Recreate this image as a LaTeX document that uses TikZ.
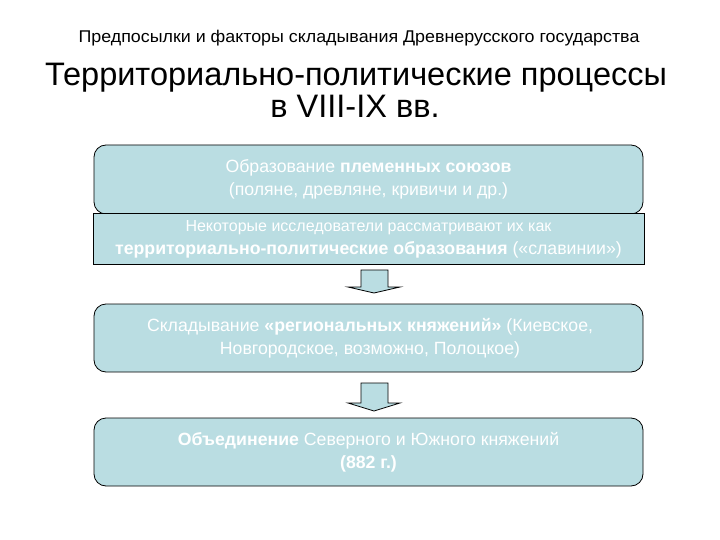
\documentclass[tikz,border=0pt]{standalone}
\usepackage{fontspec}
\setmainfont{Liberation Sans}
\newfontfamily\subfont[FakeStretch=1.05]{Liberation Sans}
\definecolor{boxfill}{HTML}{BADDE2}
\begin{document}
\begin{tikzpicture}[x=1pt,y=-1pt,
  roundbox/.style={draw=black,line width=0.8pt,fill=boxfill,rounded corners=12pt},
  sharpbox/.style={draw=black,line width=0.8pt,fill=boxfill},
  boxtext/.style={text=white,align=center,font=\fontsize{17.7}{23}\selectfont},
  titletext/.style={font=\fontsize{32.5}{34}\selectfont,anchor=base},
  downarrow/.style={draw=black,line width=0.8pt,fill=boxfill}]
\useasboundingbox (0,0) rectangle (720,540);
\fill[white] (0,0) rectangle (720,540);
\node[font=\subfont\fontsize{17}{18}\selectfont,anchor=base] (sub) at (359,43) {Предпосылки и факторы складывания Древнерусского государства};
\node[titletext] (title1) at (356,86) {Территориально-политические процессы};
\node[titletext] (title2) at (355,118) {в VIII-IX вв.};
% boxes
\draw[roundbox] (94,145) rectangle (643,214);
\draw[sharpbox] (93,213) rectangle (644,264);
\draw[roundbox] (94,304) rectangle (643,372);
\draw[roundbox] (94,418) rectangle (643,486);
\node[boxtext] (b1) at (368.5,179) {Образование \textbf{племенных союзов}\\(поляне, древляне, кривичи и др.)};
\node[boxtext] (b2) at (368.5,239.5) {{\fontsize{16}{23}\selectfont Некоторые исследователи рассматривают их как}\\\textbf{территориально-политические образования} («славинии»)};
\node[boxtext] (b3) at (370,338) {Складывание \textbf{«региональных княжений»} (Киевское,\\Новгородское, возможно, Полоцкое)};
\node[boxtext] (b4) at (368.5,452) {\textbf{Объединение} Северного и Южного княжений\\\textbf{(882 г.)}};
% arrows
\draw[downarrow] (361,270) -- (388,270) -- (388,287) -- (400,287) -- (374,293) -- (348,287) -- (361,287) -- cycle;
\draw[downarrow] (361,383) -- (388,383) -- (388,403) -- (400,403) -- (374,411) -- (348,403) -- (361,403) -- cycle;
\end{tikzpicture}
\end{document}
